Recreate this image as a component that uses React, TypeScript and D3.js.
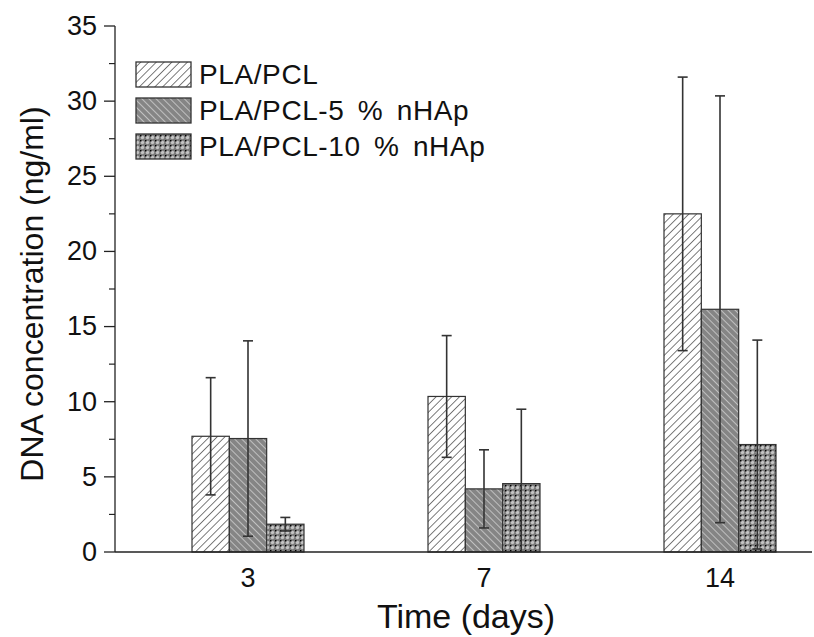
import React from "react";
import * as d3 from "d3";

// data
const days = ["3", "7", "14"];
const seriesNames = ["PLA/PCL", "PLA/PCL-5 % nHAp", "PLA/PCL-10 % nHAp"];
const means = [
  [7.7, 10.35, 22.5],
  [7.55, 4.2, 16.15],
  [1.85, 4.55, 7.15],
];
const errs = [
  [3.9, 4.05, 9.1],
  [6.5, 2.6, 14.2],
  [0.45, 4.95, 6.95],
];
const yTicks = [0, 5, 10, 15, 20, 25, 30, 35];
const yMinor = [2.5, 7.5, 12.5, 17.5, 22.5, 27.5, 32.5];

const patternIds = ["pat-fwd", "pat-back", "pat-dots"];
const FONT = "Arial, 'Liberation Sans', sans-serif";

const App = () => {
  const width = 814;
  const height = 637;
  const axisX = 115;
  const axisRight = 812;

  const y = d3.scaleLinear().domain([0, 35]).range([552, 26]);
  const x0 = d3.scalePoint().domain(days).range([248, 720]);
  const x1 = d3.scaleBand().domain(seriesNames).range([-56, 56]);
  const bw = x1.bandwidth();

  return (
    <svg
      width={width}
      height={height}
      style={{ position: "absolute", left: 0, top: 0, background: "#fff" }}
      fontFamily={FONT}
    >
      <defs>
        {/* white with black "/" hatching */}
        <pattern id="pat-fwd" width="5.5" height="5.5" patternUnits="userSpaceOnUse" patternTransform="rotate(45)">
          <rect width="5.5" height="5.5" fill="#fff" />
          <line x1="0" y1="0" x2="0" y2="5.5" stroke="#111" strokeWidth="1.1" />
        </pattern>
        {/* grey with white "\" hatching */}
        <pattern id="pat-back" width="5" height="5" patternUnits="userSpaceOnUse" patternTransform="rotate(-45)">
          <rect width="5" height="5" fill="#858585" />
          <line x1="0" y1="0" x2="0" y2="5" stroke="#e8e8e8" strokeWidth="1.2" />
        </pattern>
        {/* grey cross-hatch with black dots */}
        <pattern id="pat-dots" width="5" height="5" patternUnits="userSpaceOnUse">
          <rect width="5" height="5" fill="#7a7a7a" />
          <circle cx="2.5" cy="2.5" r="1.7" fill="#c4c4c4" />
          <rect x="0" y="0" width="1.4" height="1.4" fill="#000" />
        </pattern>
      </defs>

      {/* bars */}
      {seriesNames.map((s, si) =>
        days.map((d, di) => {
          const bx = (x0(d) as number) + (x1(s) as number);
          const top = y(means[si][di]);
          return (
            <rect
              key={s + d}
              x={bx}
              y={top}
              width={bw}
              height={y(0) - top}
              fill={`url(#${patternIds[si]})`}
              stroke="#333"
              strokeWidth={1.2}
            />
          );
        })
      )}

      {/* error bars */}
      {seriesNames.map((s, si) =>
        days.map((d, di) => {
          const cx = (x0(d) as number) + (x1(s) as number) + bw / 2;
          const hi = means[si][di] + errs[si][di];
          const lo = Math.max(0, means[si][di] - errs[si][di]);
          return (
            <g key={"e" + s + d} stroke="#333" strokeWidth={1.6}>
              <line x1={cx} x2={cx} y1={y(hi)} y2={y(lo)} />
              <line x1={cx - 5} x2={cx + 5} y1={y(hi)} y2={y(hi)} />
              {means[si][di] - errs[si][di] > 0 && (
                <line x1={cx - 5} x2={cx + 5} y1={y(lo)} y2={y(lo)} />
              )}
            </g>
          );
        })
      )}

      {/* y axis */}
      <line x1={axisX} x2={axisX} y1={y(35)} y2={y(0)} stroke="#222" strokeWidth={1.3} />
      {yTicks.map((t) => (
        <g key={"yt" + t}>
          <line x1={axisX - 11} x2={axisX} y1={y(t)} y2={y(t)} stroke="#222" strokeWidth={1.3} />
          <text x={97} y={y(t)} dy="0.33em" textAnchor="end" fontSize={27} fill="#111">
            {t}
          </text>
        </g>
      ))}
      {yMinor.map((t) => (
        <line key={"ym" + t} x1={axisX - 6} x2={axisX} y1={y(t)} y2={y(t)} stroke="#222" strokeWidth={1.2} />
      ))}

      {/* x axis */}
      <line x1={axisX} x2={axisRight} y1={y(0)} y2={y(0)} stroke="#222" strokeWidth={1.3} />
      {days.map((d) => (
        <text key={"xt" + d} x={x0(d)} y={587} textAnchor="middle" fontSize={27} fill="#111">
          {d}
        </text>
      ))}

      {/* axis titles */}
      <text x={466} y={628} textAnchor="middle" fontSize={34} fill="#111">
        Time (days)
      </text>
      <text
        transform={`translate(43,294) rotate(-90)`}
        textAnchor="middle"
        fontSize={32}
        fill="#111"
      >
        DNA concentration (ng/ml)
      </text>

      {/* legend */}
      {seriesNames.map((s, si) => {
        const cy = 74 + si * 36;
        return (
          <g key={"lg" + s}>
            <rect x={136} y={cy - 12} width={55} height={25} fill={`url(#${patternIds[si]})`} stroke="#333" strokeWidth={1.3} />
            <text x={199} y={cy} dy="0.35em" fontSize={28} letterSpacing={0.6} wordSpacing={5} fill="#111">
              {s}
            </text>
          </g>
        );
      })}
    </svg>
  );
};

export default App;
